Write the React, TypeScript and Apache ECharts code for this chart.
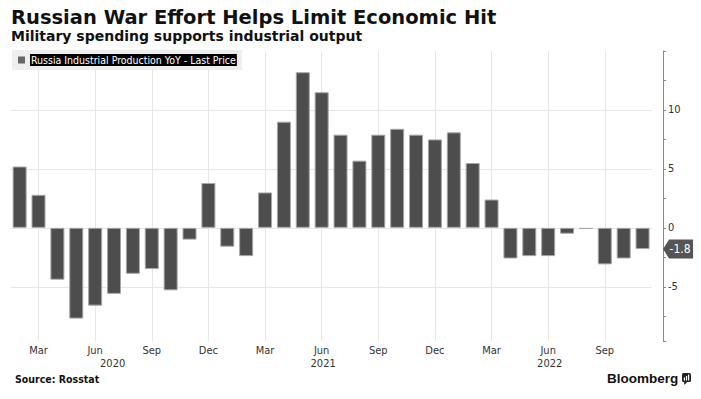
import { useEffect, useRef } from "react";
import * as echarts from "echarts";

const categories = [
  "2020-02", "2020-03", "2020-04", "2020-05", "2020-06", "2020-07", "2020-08", "2020-09", "2020-10", "2020-11", "2020-12",
  "2021-01", "2021-02", "2021-03", "2021-04", "2021-05", "2021-06", "2021-07", "2021-08", "2021-09", "2021-10", "2021-11", "2021-12",
  "2022-01", "2022-02", "2022-03", "2022-04", "2022-05", "2022-06", "2022-07", "2022-08", "2022-09", "2022-10", "2022-11",
];
const values = [
  5.2, 2.8, -4.4, -7.7, -6.6, -5.6, -3.9, -3.5, -5.3, -1.0, 3.8,
  -1.6, -2.4, 3.0, 9.0, 13.2, 11.5, 7.9, 5.7, 7.9, 8.4, 7.9, 7.5,
  8.1, 5.5, 2.4, -2.6, -2.4, -2.4, -0.5, -0.1, -3.1, -2.6, -1.8,
];
const monthNames = ["Jan", "Feb", "Mar", "Apr", "May", "Jun", "Jul", "Aug", "Sep", "Oct", "Nov", "Dec"];
const labeledMonths = [3, 6, 9, 12];
const yearLabels: Record<string, string> = { "2020-06": "2020", "2021-06": "2021", "2022-06": "2022" };
const yTickLabels = [-5, 0, 5, 10];

const seriesName = "Russia Industrial Production YoY - Last Price";
const titleText = "Russian War Effort Helps Limit Economic Hit";
const subtitleText = "Military spending supports industrial output";
const sourceText = "Source: Rosstat";

const COND = "'DejaVu Sans Condensed', 'DejaVu Sans', sans-serif";
const SANS = "'DejaVu Sans', sans-serif";

const monthOf = (c: string) => parseInt(c.slice(5), 10);

export default function App() {
  const ref = useRef<HTMLDivElement>(null);
  useEffect(() => {
    const chart = echarts.init(ref.current!, null, { renderer: "svg" });
    const last = values.length - 1;
    const option: any = {
      animation: false,
      backgroundColor: "#ffffff",
      title: {
        text: titleText,
        subtext: subtitleText,
        left: 11,
        top: 7,
        itemGap: 0,
        padding: 0,
        textStyle: { fontFamily: SANS, fontWeight: "bold", fontSize: 19.5, color: "#111", lineHeight: 21 },
        subtextStyle: { fontFamily: SANS, fontWeight: "bold", fontSize: 14, color: "#111", lineHeight: 16 },
      },
      legend: {
        data: [seriesName],
        left: 12,
        top: 50,
        padding: [4, 5, 4, 6],
        backgroundColor: "#eeeeee",
        icon: "rect",
        itemWidth: 7,
        itemHeight: 7,
        selectedMode: false,
        itemStyle: { color: "#666666", borderWidth: 0 },
        textStyle: {
          fontFamily: COND,
          fontSize: 10.5,
          color: "#ffffff",
          backgroundColor: "#000000",
          padding: [1, 1, 0, 1],
        },
      },
      grid: { left: 10.2, right: 49, top: 51, bottom: 58 },
      xAxis: [
        {
          type: "category",
          data: categories,
          boundaryGap: true,
          axisLine: { show: false },
          axisTick: { show: false },
          splitLine: { show: false },
          axisLabel: {
            interval: 0,
            margin: 4,
            fontFamily: COND,
            fontSize: 11,
            color: "#333",
            formatter: (v: string) => {
              const m = monthOf(v);
              return labeledMonths.includes(m) ? monthNames[m - 1] : "";
            },
          },
        },
        {
          type: "category",
          data: categories,
          position: "bottom",
          offset: 13,
          boundaryGap: true,
          axisLine: { show: false },
          axisTick: { show: false },
          splitLine: { show: false },
          axisLabel: {
            interval: 0,
            margin: 4,
            fontFamily: COND,
            fontSize: 11,
            color: "#333",
            formatter: (v: string) => {
              const y = yearLabels[v];
              if (!y) return "";
              return y === "2020" ? `{a|${y}}` : `{b|${y}}`;
            },
            rich: {
              a: { fontFamily: COND, fontSize: 11, color: "#333", padding: [0, 0, 0, 35] },
              b: { fontFamily: COND, fontSize: 11, color: "#333", padding: [0, 0, 0, 3] },
            },
          },
        },
      ],
      yAxis: {
        type: "value",
        position: "right",
        offset: 11,
        min: -9.6,
        max: 15,
        splitNumber: 5,
        axisLine: { show: true, lineStyle: { color: "#8a8a8a", width: 1 } },
        axisTick: { show: true, inside: false, length: 3, lineStyle: { color: "#8a8a8a" } },
        minorTick: { show: true, splitNumber: 2, length: 3, lineStyle: { color: "#8a8a8a" } },
        splitLine: { show: true, showMinLine: false, showMaxLine: false, lineStyle: { color: "#e6e6e6", width: 1 } },
        axisLabel: {
          margin: 5,
          fontFamily: COND,
          fontSize: 11,
          color: "#333",
          formatter: (v: number) => (yTickLabels.includes(v) ? String(v) : ""),
        },
      },
      series: [
        {
          name: "grid-months",
          type: "line",
          data: [],
          silent: true,
          z: 1,
          markLine: {
            z: 1,
            silent: true,
            symbol: "none",
            label: { show: false },
            lineStyle: { color: "#e6e6e6", type: "solid", width: 1 },
            data: categories.filter((c) => labeledMonths.includes(monthOf(c))).map((c) => ({ xAxis: c })),
          },
        },
        {
          name: seriesName,
          type: "bar",
          data: values,
          z: 2,
          barWidth: 14,
          itemStyle: { color: "#4d4d4d", borderColor: "#a6a6a6", borderWidth: 1 },
          markPoint: {
            symbol: "path://M0,10L6,0L30,0L30,20L6,20Z",
            symbolSize: [30, 19],
            symbolOffset: [35.5, 0],
            itemStyle: { color: "#555555", borderWidth: 0 },
            label: {
              show: true,
              position: "inside",
              offset: [2, 0],
              color: "#ffffff",
              fontFamily: COND,
              fontSize: 12,
              formatter: (p: any) => Number(p.value).toFixed(1),
            },
            data: [{ coord: [categories[last], values[last]], value: values[last] }],
          },
        },
      ],
      graphic: [
        {
          type: "text",
          x: 15,
          y: 379,
          style: {
            text: sourceText,
            font: `bold 10.5px ${COND}`,
            fill: "#111",
            verticalAlign: "middle",
          },
        },
        {
          type: "text",
          x: 607,
          y: 378,
          style: {
            text: "Bloomberg",
            font: "bold 13.5px 'Liberation Sans', Arial, sans-serif",
            fill: "#111",
            verticalAlign: "middle",
          },
        },
        {
          type: "group",
          children: [
            { type: "rect", shape: { x: 682, y: 373, width: 9, height: 9, r: 1.5 }, style: { fill: "#222" } },
            { type: "polygon", shape: { points: [[684, 381.5], [687.5, 381.5], [684.5, 385]] }, style: { fill: "#222" } },
            { type: "rect", shape: { x: 683.8, y: 377.5, width: 1.2, height: 3 }, style: { fill: "#fff" } },
            { type: "rect", shape: { x: 685.9, y: 376, width: 1.2, height: 4.5 }, style: { fill: "#fff" } },
            { type: "rect", shape: { x: 688, y: 374.5, width: 1.2, height: 6 }, style: { fill: "#fff" } },
          ],
        },
      ],
    };
    chart.setOption(option);
    return () => chart.dispose();
  }, []);
  return (
    <div
      ref={ref}
      style={{ position: "fixed", left: 0, top: 0, width: 701, height: 399, background: "#fff" }}
    />
  );
}
